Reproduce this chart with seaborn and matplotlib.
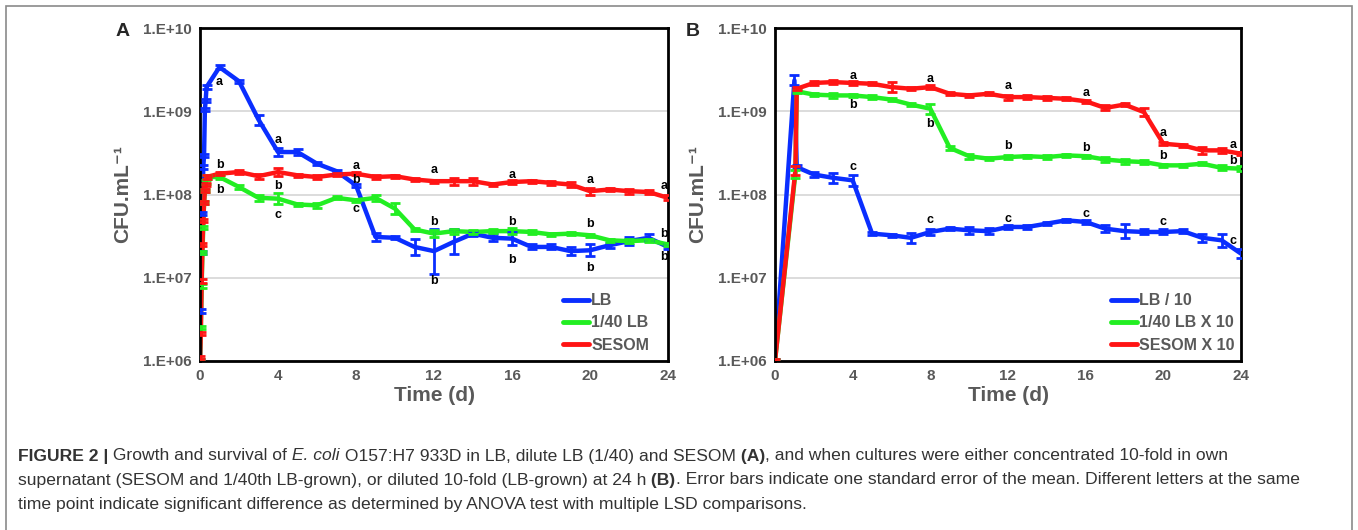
import numpy as np
import pandas as pd
import seaborn as sns
import matplotlib
matplotlib.use("Agg")
import matplotlib.pyplot as plt
from matplotlib.ticker import FixedLocator, FuncFormatter
from matplotlib.lines import Line2D
from matplotlib.patches import Rectangle

# ---- data (log10 CFU/mL) ----
hours = [0, 1, 2, 3, 4, 5, 6, 7, 8]
t_early = [h / 24 for h in hours]
t_days = list(range(1, 25))
time_A = t_early + t_days

lb_A = [6.0, 6.6, 7.3, 7.77, 8.33, 8.47, 9.02, 9.13, 9.29,
        9.53, 9.36, 8.90, 8.51, 8.51, 8.37, 8.28, 8.11, 7.49, 7.48, 7.37, 7.32,
        7.43, 7.53, 7.48, 7.47, 7.37, 7.37, 7.32, 7.33, 7.39, 7.44, 7.48, 7.37]
lb40_A = [6.0, 6.4, 6.9, 7.3, 7.6, 7.9, 8.05, 8.15, 8.21,
          8.21, 8.09, 7.96, 7.95, 7.88, 7.87, 7.96, 7.93, 7.96, 7.83, 7.58, 7.53,
          7.56, 7.55, 7.56, 7.56, 7.55, 7.52, 7.53, 7.51, 7.45, 7.44, 7.45, 7.40]
sesom_A = [6.04, 6.33, 6.96, 7.4, 7.69, 7.9, 8.05, 8.12, 8.21,
           8.25, 8.27, 8.22, 8.27, 8.23, 8.21, 8.24, 8.25, 8.21, 8.22, 8.18, 8.16,
           8.16, 8.16, 8.12, 8.15, 8.16, 8.14, 8.12, 8.04, 8.06, 8.04, 8.03, 7.96]

# standard error, as half-width in log10 units
lb_A_err = [0.02] * 9 + [0.02, 0.02, 0.06, 0.05, 0.04, 0.02, 0.02, 0.02, 0.05, 0.02,
                         0.10, 0.27, 0.15, 0.03, 0.04, 0.08, 0.03, 0.03, 0.05, 0.07,
                         0.03, 0.05, 0.04, 0.03]
lb40_A_err = [0.02] * 9 + [0.02, 0.02, 0.04, 0.07, 0.02, 0.03, 0.02, 0.02, 0.04, 0.07,
                           0.02, 0.04, 0.03, 0.02, 0.02, 0.04, 0.02, 0.02, 0.02, 0.02,
                           0.02, 0.02, 0.02, 0.02]
sesom_A_err = [0.02] * 9 + [0.02, 0.02, 0.03, 0.05, 0.02, 0.02, 0.02, 0.02, 0.02, 0.02,
                            0.02, 0.02, 0.04, 0.04, 0.02, 0.02, 0.02, 0.02, 0.03, 0.04,
                            0.02, 0.03, 0.02, 0.03]

time_B_lb = [0, 1.0, 1.12] + list(range(2, 25))
time_B = [0, 1.05, 1.12] + list(range(2, 25))
lb_B = [6.0, 9.37, 8.33, 8.24, 8.20, 8.17, 7.53, 7.51, 7.48, 7.55, 7.59, 7.57, 7.56,
        7.61, 7.61, 7.65, 7.69, 7.67, 7.59, 7.56, 7.55, 7.55, 7.56, 7.48, 7.45, 7.29]
lb40_B = [6.0, 8.25, 9.24, 9.20, 9.19, 9.19, 9.17, 9.14, 9.08, 9.03, 8.56, 8.46, 8.43,
          8.45, 8.46, 8.45, 8.47, 8.46, 8.42, 8.40, 8.39, 8.35, 8.35, 8.37, 8.32, 8.31]
sesom_B = [6.0, 8.29, 9.27, 9.34, 9.35, 9.34, 9.33, 9.29, 9.27, 9.29, 9.21, 9.19, 9.21,
           9.17, 9.17, 9.16, 9.15, 9.12, 9.04, 9.08, 8.99, 8.61, 8.59, 8.53, 8.53, 8.49]
lb_B_err = [0.02, 0.06, 0.02, 0.03, 0.06, 0.07, 0.02, 0.02, 0.06, 0.04, 0.02, 0.04, 0.04,
            0.02, 0.02, 0.02, 0.02, 0.02, 0.04, 0.08, 0.03, 0.03, 0.02, 0.05, 0.08, 0.05]
lb40_B_err = [0.02, 0.05, 0.02, 0.02, 0.03, 0.02, 0.02, 0.02, 0.02, 0.06, 0.02, 0.03, 0.02,
              0.02, 0.02, 0.02, 0.02, 0.02, 0.03, 0.03, 0.02, 0.02, 0.02, 0.02, 0.03, 0.03]
sesom_B_err = [0.02, 0.05, 0.02, 0.02, 0.02, 0.02, 0.02, 0.06, 0.02, 0.02, 0.02, 0.02, 0.02,
               0.03, 0.02, 0.02, 0.02, 0.02, 0.03, 0.02, 0.05, 0.02, 0.02, 0.04, 0.03, 0.02]

# significance letters: (day, log10 position, letter)
letters_A = [(1.0, 9.35, "a"), (1.0, 8.36, "b"), (1.0, 8.06, "b"),
             (4, 8.66, "a"), (4, 8.10, "b"), (4, 7.75, "c"),
             (8, 8.34, "a"), (8, 8.18, "b"), (8, 7.82, "c"),
             (12, 8.29, "a"), (12, 7.67, "b"), (12, 6.96, "b"),
             (16, 8.24, "a"), (16, 7.67, "b"), (16, 7.21, "b"),
             (20, 8.17, "a"), (20, 7.65, "b"), (20, 7.12, "b"),
             (23.8, 8.10, "a"), (23.8, 7.53, "b"), (23.8, 7.25, "b")]
letters_B = [(4, 9.42, "a"), (4, 9.07, "b"), (4, 8.33, "c"),
             (8, 9.39, "a"), (8, 8.85, "b"), (8, 7.69, "c"),
             (12, 9.30, "a"), (12, 8.58, "b"), (12, 7.71, "c"),
             (16, 9.22, "a"), (16, 8.56, "b"), (16, 7.76, "c"),
             (20, 8.74, "a"), (20, 8.46, "b"), (20, 7.67, "c"),
             (23.6, 8.59, "a"), (23.6, 8.40, "b"), (23.6, 7.44, "c")]

labels_A = ["LB", "1/40 LB", "SESOM"]
labels_B = ["LB / 10", "1/40 LB X 10", "SESOM X 10"]
colors = ["#0A2EFF", "#22EE22", "#FF1414"]
gray = "#595959"

sns.set_style("white")
plt.rcParams["font.family"] = ["Liberation Sans", "DejaVu Sans"]

fig = plt.figure(figsize=(13.58, 5.30), dpi=100)
W, H = 1358, 530


def ax_rect(x0, x1, y0, y1):
    return [x0 / W, 1 - y1 / H, (x1 - x0) / W, (y1 - y0) / H]


axA = fig.add_axes(ax_rect(200, 668, 28, 361))
axB = fig.add_axes(ax_rect(775, 1241, 28, 361))


def panel(ax, series, labels, letters, leg_x):
    frames = []
    for (t, y, e), lab in zip(series, labels):
        frames.append(pd.DataFrame({"time": t, "cfu": 10 ** np.array(y), "series": lab}))
    df = pd.concat(frames)
    sns.lineplot(data=df, x="time", y="cfu", hue="series", palette=colors,
                 hue_order=labels, estimator=None, linewidth=3.2, legend=False, ax=ax)
    for (t, y, e), c in zip(series, colors):
        y = np.array(y)
        e = np.array(e)
        m = 10 ** y
        ax.errorbar(t, m, yerr=[m - 10 ** (y - e), 10 ** (y + e) - m], fmt="none",
                    ecolor=c, elinewidth=2, capsize=3.5, capthick=2, zorder=3)
    ax.set_yscale("log")
    ax.set_ylim(1e6, 1e10)
    ax.set_xlim(0, 24)
    ax.yaxis.set_major_locator(FixedLocator([1e6, 1e7, 1e8, 1e9, 1e10]))
    ax.yaxis.set_minor_locator(FixedLocator([]))
    ax.yaxis.set_major_formatter(FuncFormatter(lambda v, p: "1.E+%02d" % round(np.log10(v))))
    ax.set_xticks(range(0, 25, 4))
    ax.grid(axis="y", color="#d9d9d9", linewidth=1.3)
    ax.grid(axis="x", visible=False)
    ax.tick_params(length=0, labelsize=11, labelcolor=gray, pad=6)
    for lab in ax.get_xticklabels() + ax.get_yticklabels():
        lab.set_fontweight("bold")
    for s in ax.spines.values():
        s.set_color("black")
        s.set_linewidth(2)
    ax.set_xlabel("Time (d)", fontsize=15, fontweight="bold", color=gray, labelpad=2)
    ax.set_ylabel("CFU.mL\u207B\u00B9", fontsize=15, fontweight="bold", color=gray,
                  labelpad=8)
    for t, yv, s in letters:
        ax.text(t, 10 ** yv, s, fontsize=9, fontweight="bold", ha="center", va="center",
                color="black", zorder=5)
    handles = [Line2D([], [], color=c, linewidth=3.5) for c in colors]
    ax.legend(handles, labels, loc="lower left", bbox_to_anchor=(leg_x, 0.025),
              frameon=False, handlelength=1.6, handletextpad=0.15, labelspacing=0.45,
              borderaxespad=0, borderpad=0,
              prop={"size": 11.5, "weight": "bold"}, labelcolor=gray)


panel(axA, [(time_A, lb_A, lb_A_err), (time_A, lb40_A, lb40_A_err),
            (time_A, sesom_A, sesom_A_err)], labels_A, letters_A, 0.776)
panel(axB, [(time_B_lb, lb_B, lb_B_err), (time_B, lb40_B, lb40_B_err),
            (time_B, sesom_B, sesom_B_err)], labels_B, letters_B, 0.722)

fig.text(123 / W, 1 - 32 / H, "A", fontsize=14, fontweight="bold", ha="center", va="center")
fig.text(693 / W, 1 - 32 / H, "B", fontsize=14, fontweight="bold", ha="center", va="center")

# outer frame of the figure panel
fig.patches.append(Rectangle((6 / W, -0.05), (1352 - 6) / W, 1 - 6 / H + 0.05,
                             transform=fig.transFigure, fill=False, edgecolor="#8a8a8a",
                             linewidth=1.2))

# caption, written in pieces so bold / italic can mix
cap_font = ["Liberation Sans", "DejaVu Sans"]
cap_lines = [
    [("FIGURE 2 |", "bold", "normal"), (" Growth and survival of", "normal", "normal"),
     (" E. coli", "normal", "italic"),
     (" O157:H7 933D in LB, dilute LB (1/40) and SESOM", "normal", "normal"),
     (" (A)", "bold", "normal"),
     (", and when cultures were either concentrated 10-fold in own", "normal", "normal")],
    [("supernatant (SESOM and 1/40th LB-grown), or diluted 10-fold (LB-grown) at 24 h",
      "normal", "normal"), (" (B)", "bold", "normal"),
     (". Error bars indicate one standard error of the mean. Different letters at the same",
      "normal", "normal")],
    [("time point indicate significant difference as determined by ANOVA test with multiple LSD comparisons.",
      "normal", "normal")],
]
renderer = fig.canvas.get_renderer()
for i, line in enumerate(cap_lines):
    x = 18
    y = 456 + 24 * i
    for txt, wt, st in line:
        tx = fig.text(x / W, 1 - y / H, txt, fontsize=12.6, fontweight=wt, fontstyle=st,
                      family=cap_font, color="#333333", va="center", ha="left")
        bb = tx.get_window_extent(renderer=renderer)
        x += bb.width

fig.savefig("out.png", dpi=100)
